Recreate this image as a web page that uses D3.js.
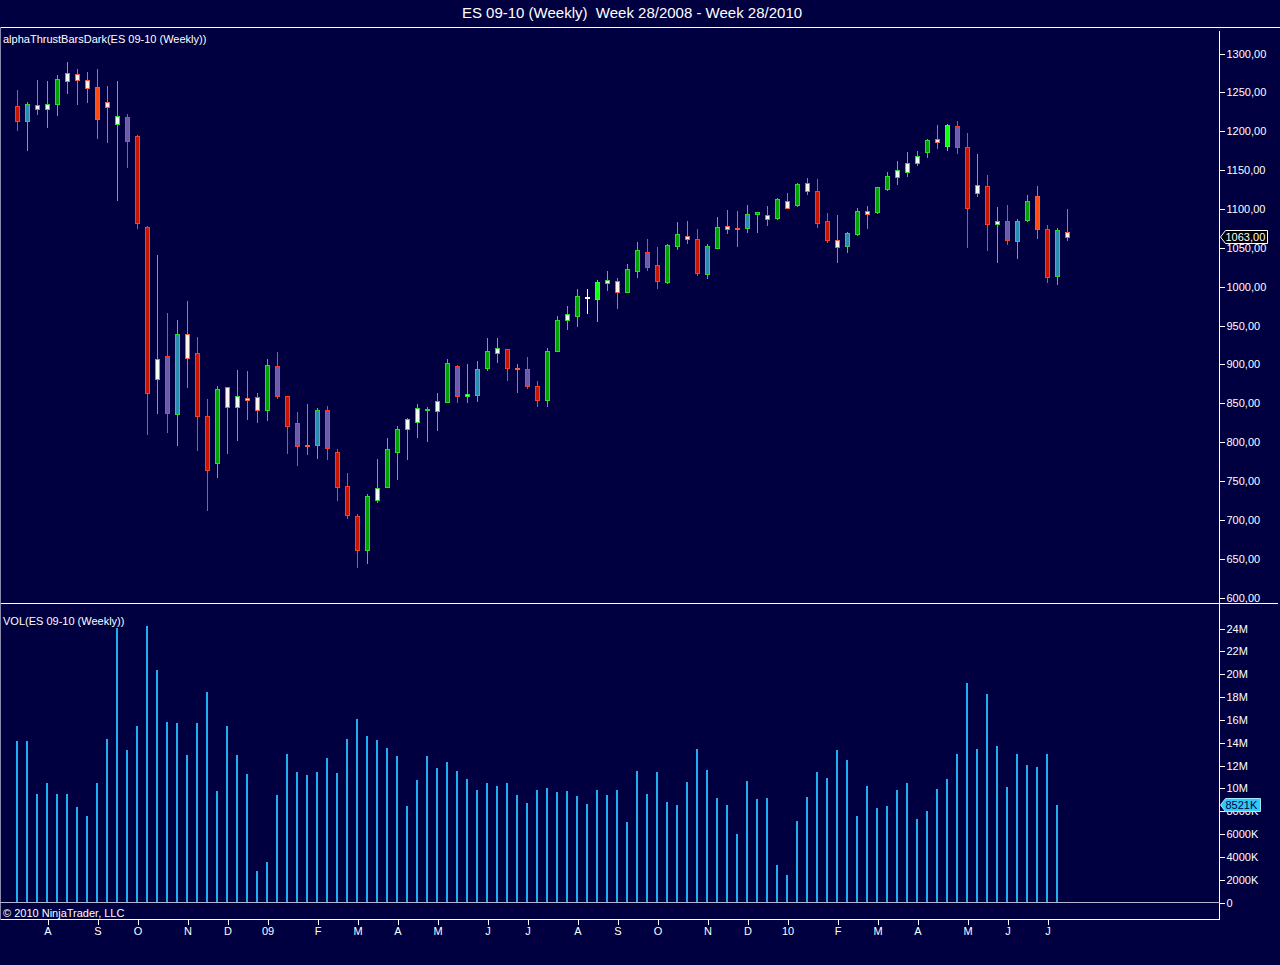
<!DOCTYPE html>
<html>
<head>
<meta charset="utf-8">
<script src="https://cdn.jsdelivr.net/npm/d3@7"></script>
<style>
  html, body { margin: 0; padding: 0; background: #000040; }
  svg { display: block; font-family: "Liberation Sans", Arial, sans-serif; }
</style>
</head>
<body>
<svg id="chart" width="1280" height="965"></svg>
<script>

// Weekly bars, week 28/2008 .. week 28/2010
var opens = [1232,1213,1233,1228,1235,1264,1273,1265,1256,1237,
	1208,1218,1193,1076,881,910,836,938,914,833,
	773,870,844,856,857,841,897,858,824,796,
	796,841,787,743,704,661,725,742,787,816,
	825,841,839,851,897,858,860,895,914,919,
	895,893,871,853,917,957,962,986,984,1004,
	1006,992,1020,1044,1027,1005,1052,1065,1061,1016,
	1049,1077,1075,1075,1093,1092,1088,1110,1104,1133,
	1122,1084,1060,1052,1067,1097,1095,1125,1140,1147,
	1159,1173,1189,1180,1206,1179,1120,1129,1080,1084,
	1058,1085,1116,1074,1013,1070];

var highs = [1252,1237,1265,1264,1272,1288,1279,1275,1279,1257,
	1264,1222,1195,1077,1040,965,956,981,935,855,
	871,870,892,891,863,906,915,859,838,848,
	843,846,791,759,707,733,777,805,820,830,
	848,844,862,906,899,900,904,933,933,919,
	900,909,878,920,962,974,996,996,1008,1019,
	1011,1028,1057,1061,1051,1054,1082,1084,1074,1054,
	1089,1098,1097,1104,1096,1103,1114,1120,1133,1139,
	1138,1094,1092,1070,1101,1103,1128,1147,1161,1172,
	1174,1189,1207,1209,1213,1197,1170,1143,1102,1104,
	1087,1117,1129,1079,1075,1099];

var lows = [1199,1174,1220,1204,1219,1247,1233,1236,1189,1184,
	1109,1152,1073,808,836,811,794,869,788,711,
	753,784,801,828,824,826,855,784,769,783,
	777,776,723,700,637,642,721,741,750,776,
	805,799,814,851,850,850,851,891,901,878,
	862,868,845,845,915,943,948,964,954,994,
	970,992,1010,1020,996,1003,1047,1054,1013,1009,
	1049,1067,1051,1069,1069,1077,1085,1099,1102,1117,
	1075,1056,1030,1043,1064,1074,1093,1122,1130,1141,
	1155,1165,1176,1174,1170,1049,1115,1045,1030,1053,
	1035,1083,1061,1004,1001,1058];

var closes = [1213,1234,1228,1234,1266,1274,1265,1255,1215,1231,
	1219,1187,1081,863,906,837,939,908,833,764,
	868,844,859,853,841,898,858,820,794,794,
	841,792,741,706,660,730,740,791,816,829,
	843,842,852,901,858,861,894,917,920,895,
	894,872,853,917,957,964,987,986,1005,1008,
	993,1022,1046,1025,1006,1053,1067,1061,1017,1052,
	1076,1074,1074,1093,1095,1086,1112,1101,1132,1122,
	1081,1060,1050,1069,1097,1093,1127,1142,1150,1158,
	1168,1188,1185,1207,1179,1101,1130,1080,1084,1060,
	1084,1110,1074,1012,1072,1063];

// alphaThrust state of each bar
var barState = ["r","tg","wr","wg","g","wg","wr","wr","R","wr",
	"wg","pr","r","r","wg","pr","tg","wr","r","r",
	"g","wr","wg","wr","wr","g","pr","r","pr","wr",
	"tg","pr","r","r","r","g","wg","g","g","wg",
	"wg","g","wg","g","pr","wg","tg","g","wg","r",
	"wr","pr","r","g","g","wg","g","w","G","wg",
	"wr","g","g","pr","r","g","g","wr","r","tg",
	"g","wr","wr","tg","g","wr","g","wr","g","wr",
	"r","r","wr","tg","g","wr","g","g","wg","wg",
	"wg","g","wr","G","pr","r","wg","r","wg","pr",
	"tg","g","R","r","tg","wr"];

// weekly volume in millions of contracts (current week not shown)
var volumeM = [14.1,14.1,9.5,10.4,9.5,9.5,8.3,7.5,10.4,14.3,
	24.0,13.3,15.4,24.2,20.3,15.8,15.7,12.9,15.7,18.4,
	9.7,15.4,12.9,11.2,2.7,3.5,9.4,13.0,11.4,11.1,
	11.4,12.6,11.3,14.3,16.0,14.5,14.2,13.5,12.8,8.4,
	10.7,12.8,11.7,12.3,11.5,10.8,9.8,10.4,10.2,10.4,
	9.4,8.7,9.8,10.0,9.6,9.7,9.3,8.6,9.8,9.4,
	9.8,7.0,11.5,9.5,11.4,8.8,8.5,10.5,13.4,11.6,
	9.1,8.5,6.0,10.6,9.0,9.1,3.2,2.4,7.1,9.2,
	11.4,10.9,13.3,12.4,7.5,10.2,8.2,8.4,9.8,10.4,
	7.3,8.0,9.9,10.8,13.0,19.2,13.4,18.2,13.7,10.1,
	13.0,12.0,11.8,13.0,8.521,null];

// x axis month labels and the bar they sit on
var monthLabels = ["A","S","O","N","D","09","F","M","A","M","J","J",
	"A","S","O","N","D","10","F","M","A","M","J","J"];
var monthIndex = [3,8,12,17,21,25,30,34,38,42,47,51,
	56,60,64,69,73,77,82,86,90,95,99,103];

var priceTicks = d3.range(600, 1301, 50);
var volumeTicks = d3.range(0, 25, 2);

var lastPrice = 1063;
var lastVolume = 8.521;

// Colours for each bar state
var stateColors = {
	r:  {fill: "#c81400", stroke: "#ff3c1e"},
	R:  {fill: "#ff4a10", stroke: "#ff5a28"},
	g:  {fill: "#00a400", stroke: "#22e022"},
	G:  {fill: "#10ff10", stroke: "#30ff30"},
	wg: {fill: "#f4fff4", stroke: "#22e022"},
	wr: {fill: "#fff2ec", stroke: "#ff5a3c"},
	pr: {fill: "#6e5aaa", stroke: "#ff3c1e"},
	tg: {fill: "#2a8cb0", stroke: "#22e022"},
	w:  {fill: "#ffffff", stroke: "#ffffff"}
};

var width = 1280, height = 965;
var axisX = 1219.5;

var svg = d3.select("#chart");

svg.append("rect")
	.attr("width", width)
	.attr("height", height)
	.attr("fill", "#000040");

// Scales
var x = d3.scaleLinear()
	.domain([0, 105])
	.range([17, 1067]);

var yPrice = d3.scaleLinear()
	.domain([600, 1300])
	.range([597, 53]);

var yVol = d3.scaleLinear()
	.domain([0, 24])
	.range([902, 628]);

// Title (two spaces kept as in the original)
svg.append("text")
	.attr("x", 632)
	.attr("y", 18)
	.attr("text-anchor", "middle")
	.attr("fill", "#ffffff")
	.style("font-size", "15px")
	.style("white-space", "pre")
	.text("ES 09-10 (Weekly) \u00a0Week 28/2008 - Week 28/2010");

// Panel frame lines
var frame = svg.append("g")
	.attr("stroke", "#ffffff")
	.attr("stroke-width", 1)
	.attr("shape-rendering", "crispEdges");

frame.append("line").attr("x1", 0).attr("x2", width).attr("y1", 27.5).attr("y2", 27.5);
frame.append("line").attr("x1", 0).attr("x2", 1278).attr("y1", 603.5).attr("y2", 603.5);
frame.append("line").attr("x1", 0).attr("x2", axisX).attr("y1", 919.5).attr("y2", 919.5);
frame.append("line").attr("x1", axisX).attr("x2", axisX).attr("y1", 31).attr("y2", 919.5);
frame.append("line").attr("x1", 0.5).attr("x2", 0.5).attr("y1", 27).attr("y2", 919.5)
	.attr("stroke", "#8888a8");

// Panel labels
svg.append("text")
	.attr("x", 3).attr("y", 43)
	.attr("fill", "#ffffff")
	.style("font-size", "11px")
	.text("alphaThrustBarsDark(ES 09-10 (Weekly))");

svg.append("text")
	.attr("x", 3).attr("y", 625)
	.attr("fill", "#ffffff")
	.style("font-size", "11px")
	.text("VOL(ES 09-10 (Weekly))");

svg.append("text")
	.attr("x", 3).attr("y", 917)
	.attr("fill", "#ffffff")
	.style("font-size", "11px")
	.text("\u00a9 2010 NinjaTrader, LLC");

// Price axis
var priceFormat = function(d) { return d3.format(".2f")(d).replace(".", ","); };

var priceAxis = d3.axisRight(yPrice)
	.tickValues(priceTicks)
	.tickSize(5)
	.tickPadding(2)
	.tickFormat(priceFormat);

var gPrice = svg.append("g")
	.attr("transform", "translate(" + axisX + ",0.5)")
	.call(priceAxis);

// Volume axis
var volFormat = function(d) {
	if (d === 0) return "0";
	if (d < 10) return (d * 1000) + "K";
	return d + "M";
};

var volAxis = d3.axisRight(yVol)
	.tickValues(volumeTicks)
	.tickSize(5)
	.tickPadding(2)
	.tickFormat(volFormat);

var gVol = svg.append("g")
	.attr("transform", "translate(" + axisX + ",0.5)")
	.call(volAxis);

// Time axis
var timeAxis = d3.axisBottom(x)
	.tickValues(monthIndex)
	.tickSize(5)
	.tickPadding(3)
	.tickFormat(function(d, i) { return monthLabels[i]; });

var gTime = svg.append("g")
	.attr("transform", "translate(0.5,919.5)")
	.call(timeAxis);

[gPrice, gVol, gTime].forEach(function(g) {
	g.select(".domain").remove();
	g.selectAll(".tick line")
		.attr("stroke", "#ffffff")
		.attr("shape-rendering", "crispEdges");
	g.selectAll(".tick text")
		.attr("fill", "#ffffff")
		.style("font-size", "11px")
		.style("font-family", "\"Liberation Sans\", Arial, sans-serif");
});

// Volume zero line
svg.append("line")
	.attr("x1", 0).attr("x2", axisX)
	.attr("y1", yVol(0) + 0.5).attr("y2", yVol(0) + 0.5)
	.attr("stroke", "#b4b4d0")
	.attr("shape-rendering", "crispEdges");

// Candles
var bars = d3.range(opens.length).map(function(i) {
	return {i: i, o: opens[i], h: highs[i], l: lows[i], c: closes[i], s: barState[i]};
});

var gCandles = svg.append("g").attr("shape-rendering", "crispEdges");

gCandles.selectAll("line.wick")
	.data(bars)
	.enter()
	.append("line")
	.attr("class", "wick")
	.attr("x1", function(d) { return x(d.i) + 0.5; })
	.attr("x2", function(d) { return x(d.i) + 0.5; })
	.attr("y1", function(d) { return Math.round(yPrice(d.h)); })
	.attr("y2", function(d) { return Math.round(yPrice(d.l)); })
	.attr("stroke", function(d) { return stateColors[d.s].stroke; });

gCandles.selectAll("rect.body")
	.data(bars)
	.enter()
	.append("rect")
	.attr("class", "body")
	.attr("x", function(d) { return x(d.i) - 1.5; })
	.attr("y", function(d) { return Math.round(yPrice(Math.max(d.o, d.c))) + 0.5; })
	.attr("width", 4)
	.attr("height", function(d) {
		var top = Math.round(yPrice(Math.max(d.o, d.c)));
		var bot = Math.round(yPrice(Math.min(d.o, d.c)));
		return Math.max(1, bot - top);
	})
	.attr("fill", function(d) { return stateColors[d.s].fill; })
	.attr("stroke", function(d) { return stateColors[d.s].stroke; });

// Volume bars
svg.append("g")
	.attr("shape-rendering", "crispEdges")
	.selectAll("rect")
	.data(bars.filter(function(d) { return volumeM[d.i] != null; }))
	.enter()
	.append("rect")
	.attr("x", function(d) { return x(d.i) - 1; })
	.attr("y", function(d) { return Math.round(yVol(volumeM[d.i])); })
	.attr("width", 2)
	.attr("height", function(d) { return yVol(0) - Math.round(yVol(volumeM[d.i])); })
	.attr("fill", "#20b0f0");

// Last value markers on the axes
function marker(yPos, w, label, fill, stroke, textColor) {
	var top = Math.round(yPos) - 6.5, bot = Math.round(yPos) + 6.5;
	var g = svg.append("g");
	g.append("path")
		.attr("d", "M" + (axisX + 1) + "," + Math.round(yPos) +
			"L" + (axisX + 6) + "," + top +
			"L" + (axisX + w) + "," + top +
			"L" + (axisX + w) + "," + bot +
			"L" + (axisX + 6) + "," + bot + "Z")
		.attr("fill", fill)
		.attr("stroke", stroke);
	g.append("text")
		.attr("x", axisX + 6)
		.attr("y", Math.round(yPos) + 4)
		.attr("fill", textColor)
		.style("font-size", "11px")
		.text(label);
}

marker(yPrice(lastPrice), 48, priceFormat(lastPrice), "#000000", "#ffffff", "#ffffff");
marker(yVol(lastVolume), 41, Math.round(lastVolume * 1000) + "K", "#30c8f8", "#a0e8ff", "#000040");

</script>
</body>
</html>
